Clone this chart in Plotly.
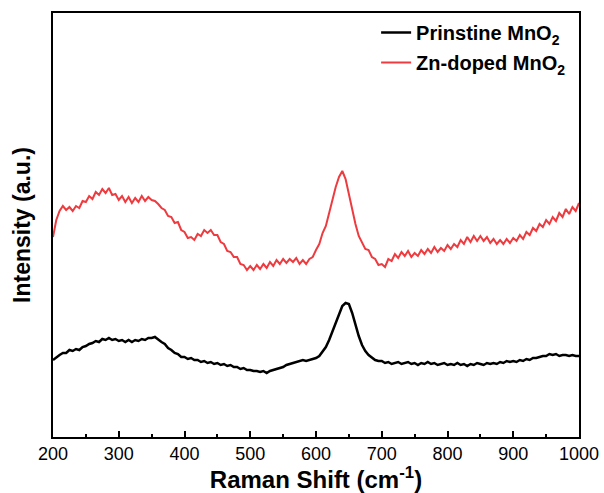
import plotly.graph_objects as go

raman_shift = list(range(200, 1001, 5))

pristine = [
    77, 80, 82, 84, 84, 87, 86, 88, 87, 90,
    91, 93, 94, 96, 95, 98, 97, 99, 97, 98,
    96, 97, 95, 97, 95, 97, 96, 98, 97, 99,
    99, 100, 97, 95, 93, 89, 87, 84, 83, 80,
    80, 78, 79, 77, 77, 75, 76, 74, 75, 73,
    74, 72, 73, 71, 72, 70, 70, 68, 69, 67,
    67, 66, 66, 65, 66, 64, 66, 67, 68, 69,
    70, 72, 73, 74, 75, 76, 77, 76, 77, 78,
    79, 81, 85, 90, 97, 106, 115, 124, 131, 134,
    133, 124, 112, 101, 92, 86, 82, 79, 77, 76,
    76, 74, 75, 73, 74, 75, 73, 74, 75, 73,
    74, 72, 74, 73, 75, 73, 74, 72, 73, 74,
    72, 73, 72, 74, 72, 73, 71, 73, 72, 74,
    73, 72, 74, 73, 74, 73, 75, 74, 76, 75,
    76, 75, 77, 76, 78, 77, 79, 79, 80, 81,
    81, 83, 82, 83, 81, 82, 82, 81, 82, 81,
    81,
]

zn_doped = [
    200, 217, 226, 231, 227, 230, 226, 231, 229, 236,
    235, 241, 238, 245, 242, 248, 244, 249, 242, 243,
    237, 241, 235, 240, 234, 239, 235, 241, 236, 240,
    237, 236, 233, 229, 227, 221, 220, 214, 215, 207,
    205, 199, 200, 197, 203, 201, 207, 204, 207, 202,
    202, 195, 193, 186, 185, 180, 180, 173, 172, 167,
    171, 167, 172, 168, 173, 169, 175, 171, 177, 173,
    178, 174, 178, 175, 179, 173, 177, 173, 178, 180,
    187, 193, 204, 211, 224, 238, 250, 260, 266, 258,
    243, 227, 213, 201, 195, 188, 187, 180, 178, 172,
    173, 170, 178, 176, 183, 179, 185, 181, 186, 180,
    184, 181, 187, 183, 188, 184, 190, 185, 189, 186,
    192, 188, 193, 190, 197, 193, 200, 195, 201, 196,
    201, 196, 200, 194, 198, 193, 197, 193, 198, 194,
    199, 196, 202, 198, 205, 202, 209, 206, 213, 210,
    217, 213, 220, 216, 224, 220, 228, 223, 230, 226,
    234,
]

x_ticks = list(range(200, 1001, 100))

font_family = "Liberation Sans, Arial, sans-serif"

fig = go.Figure()
fig.add_trace(go.Scatter(
    x=raman_shift, y=pristine, mode="lines",
    name="<b>Prinstine MnO<sub>2</sub></b>", legendgroup="a",
    line=dict(color="black", width=2.5),
))
fig.add_trace(go.Scatter(
    x=raman_shift, y=zn_doped, mode="lines",
    name="<b>Zn-doped MnO<sub>2</sub></b>", legendgroup="b",
    line=dict(color="#EE3B3F", width=2),
))

fig.update_layout(
    width=604, height=493,
    margin=dict(l=53, r=25, t=13, b=56),
    paper_bgcolor="white", plot_bgcolor="white",
    font=dict(family=font_family, color="black"),
    showlegend=True,
    legend=dict(
        x=0.985, y=1.0, xanchor="right", yanchor="top",
        bgcolor="rgba(0,0,0,0)", borderwidth=0,
        font=dict(size=20, family=font_family, color="black"),
        tracegroupgap=1,
    ),
    xaxis=dict(
        range=[200, 1000],
        tickvals=x_ticks,
        ticks="inside", ticklen=6, tickwidth=1.5, tickcolor="black",
        minor=dict(dtick=50, ticks="inside", ticklen=3, tickwidth=1.5, tickcolor="black"),
        showline=True, linecolor="black", linewidth=1.5, mirror=True,
        showgrid=False, zeroline=False, automargin=False,
        tickfont=dict(size=18, family=font_family),
        title=dict(text="<b>Raman Shift (cm<sup>-1</sup>)</b>", font=dict(size=24, family=font_family), standoff=1),
    ),
    yaxis=dict(
        range=[0, 424],
        showticklabels=False, ticks="",
        showline=True, linecolor="black", linewidth=1.5, mirror=True,
        showgrid=False, zeroline=False, automargin=False,
        title=dict(text="<b>Intensity (a.u.)</b>", font=dict(size=23, family=font_family), standoff=14),
    ),
)

fig.write_html("out.html")
